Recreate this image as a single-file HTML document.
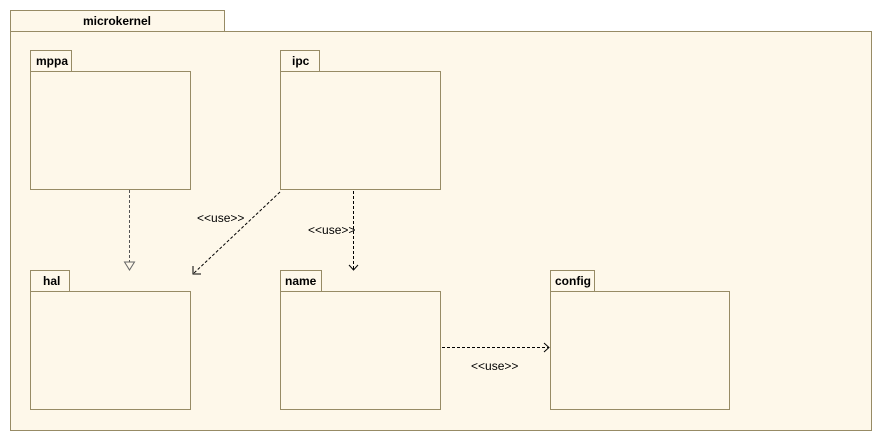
<!DOCTYPE html>
<html><head><meta charset="utf-8"><style>
body{margin:0;background:#fff;width:881px;height:441px;overflow:hidden}
svg{display:block}
text{font-family:"Liberation Sans",sans-serif}
.b{font-weight:bold;font-size:12px;fill:#000}
.u{font-size:12px;fill:#000}
</style></head><body>
<svg width="881" height="441" xmlns="http://www.w3.org/2000/svg">
<g fill="#fef8ea" stroke="#978b65" stroke-width="1">
<rect x="10.5" y="10.5" width="214" height="21"/>
<rect x="10.5" y="31.5" width="861" height="399"/>
<rect x="30.5" y="50.5" width="41" height="21"/>
<rect x="30.5" y="71.5" width="160" height="118"/>
<rect x="280.5" y="50.5" width="39" height="21"/>
<rect x="280.5" y="71.5" width="160" height="118"/>
<rect x="30.5" y="270.5" width="39" height="21"/>
<rect x="30.5" y="291.5" width="160" height="118"/>
<rect x="280.5" y="270.5" width="41" height="21"/>
<rect x="280.5" y="291.5" width="160" height="118"/>
<rect x="550.5" y="270.5" width="44" height="21"/>
<rect x="550.5" y="291.5" width="179" height="118"/>
</g>
<text class="b" x="117" y="25" text-anchor="middle">microkernel</text>
<text class="b" x="36" y="65">mppa</text>
<text class="b" x="292" y="65">ipc</text>
<text class="b" x="43" y="285">hal</text>
<text class="b" x="285" y="285">name</text>
<text class="b" x="555" y="285">config</text>
<g stroke="#000" stroke-width="1" fill="none" stroke-dasharray="3,2">
<line x1="129.5" y1="190" x2="129.5" y2="262" stroke="#555"/>
<line x1="280" y1="192" x2="193" y2="274"/>
<line x1="353.5" y1="191" x2="353.5" y2="270"/>
<line x1="442" y1="347.5" x2="549" y2="347.5"/>
</g>
<g stroke="#000" stroke-width="1" fill="none">
<polygon points="124.5,262 134.5,262 129.5,270" fill="#fef8ea" stroke="#666"/>
<polyline points="193,266 193,274 201,274"/>
<polyline points="349,265 353.5,270 358,265"/>
<polyline points="544,343 549,347.5 544,352"/>
</g>
<text class="u" x="197" y="222">&lt;&lt;use&gt;&gt;</text>
<text class="u" x="308" y="234">&lt;&lt;use&gt;&gt;</text>
<text class="u" x="471" y="370">&lt;&lt;use&gt;&gt;</text>
</svg>
</body></html>
